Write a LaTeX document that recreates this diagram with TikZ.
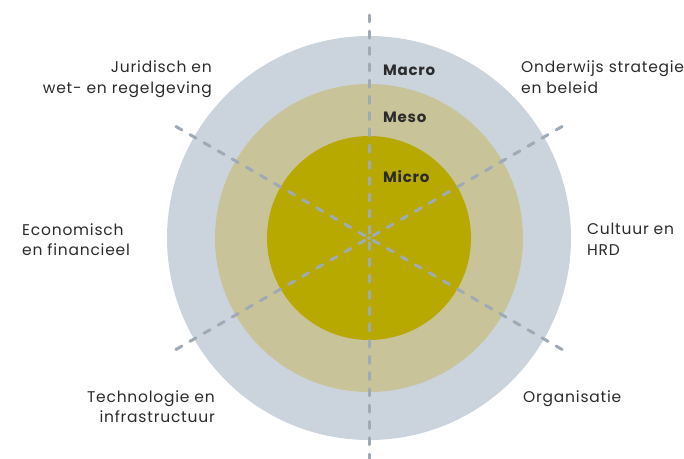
\documentclass[tikz,border=0pt]{standalone}
\usepackage{fontspec}
\setmainfont{Poppins}[LetterSpace=5]
\usetikzlibrary{calc}
\definecolor{macrogrey}{HTML}{CBD4DC}
\definecolor{mesobeige}{HTML}{C9C39A}
\definecolor{microolive}{HTML}{B8A900}
\definecolor{spokegrey}{HTML}{9EAAB5}
\definecolor{labeltext}{HTML}{2B2B2B}
\begin{document}
\begin{tikzpicture}[x=1pt, y=-1pt, font=\fontsize{15.5}{20.5}\selectfont, text=labeltext]
    \useasboundingbox (0,0) rectangle (684,458);
    \coordinate (c) at (369,238);

    \node (macro) [circle, fill=macrogrey, minimum size=404pt, inner sep=0] at (c) {};
    \node (meso) [circle, fill=mesobeige, minimum size=308pt, inner sep=0] at (c) {};
    \node (micro) [circle, fill=microolive, minimum size=204pt, inner sep=0] at (c) {};

    \foreach \a in {90, 150, 210} {
        \draw[spokegrey, line width=3pt, line cap=round, dash pattern=on 7pt off 9.26pt]
            ($(c)+(\a:223)$) -- ($(c)+(\a+180:223)$);
    }
    \fill[spokegrey] (c) circle (2pt);

    \node (macrolbl) [anchor=base west, inner sep=0, font=\fontsize{15}{18}\selectfont\bfseries] at (383,75) {Macro};
    \node (mesolbl) [anchor=base west, inner sep=0, font=\fontsize{15}{18}\selectfont\bfseries] at (383,122) {Meso};
    \node (microlbl) [anchor=base west, inner sep=0, font=\fontsize{15}{18}\selectfont\bfseries] at (383,182) {Micro};

    \node (juridisch) [anchor=north east, align=right, inner sep=0] at (212,61) {Juridisch en\\wet- en regelgeving};
    \node (onderwijs) [anchor=north west, align=left, inner sep=0] at (521,61) {Onderwijs strategie\\en beleid};
    \node (economisch) [anchor=north west, align=left, inner sep=0] at (22,223) {Economisch\\en financieel};
    \node (cultuur) [anchor=north west, align=left, inner sep=0] at (587,223) {Cultuur en\\HRD};
    \node (technologie) [anchor=north east, align=right, inner sep=0] at (215,390) {Technologie en\\infrastructuur};
    \node (organisatie) [anchor=base west, inner sep=0] at (523,402) {Organisatie};
\end{tikzpicture}
\end{document}
